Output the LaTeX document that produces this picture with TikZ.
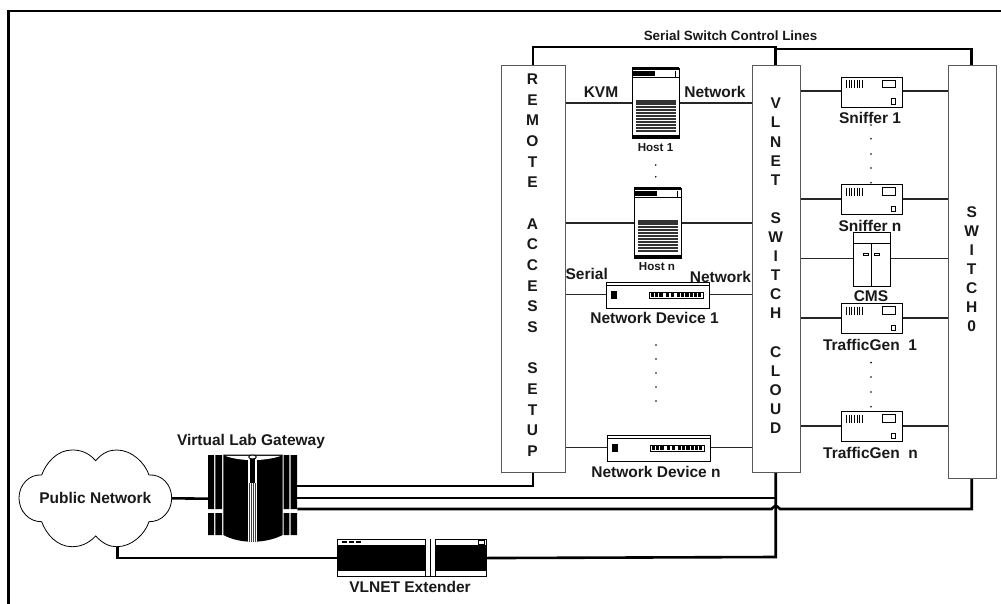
\documentclass[tikz,border=0pt]{standalone}
\usepackage{fontspec}
\setmainfont{Liberation Sans}
\tikzset{
  thinline/.style={line width=1.3pt,draw=black!85},
  thickline/.style={line width=2.6pt,draw=black,line join=miter},
  rack/.style={draw=black!65,line width=1.1pt,fill=white,inner sep=0pt},
  lab/.style={font=\bfseries\fontsize{15.5}{16}\selectfont,inner sep=0pt,text=black!90},
  titlelab/.style={font=\bfseries\fontsize{13.4}{15}\selectfont,inner sep=0pt,text=black!90},
  smalllab/.style={font=\bfseries\fontsize{11.6}{13}\selectfont,inner sep=0pt,text=black!90},
  vertras/.style={font=\bfseries\fontsize{15.5}{20.67}\selectfont,align=center,inner sep=0pt,text=black!90},
  vertsw/.style={font=\bfseries\fontsize{15.5}{19.1}\selectfont,align=center,inner sep=0pt,text=black!90},
  dev/.style={draw=black,line width=1.1pt,fill=white,inner sep=0pt,anchor=north west},
  ghost/.style={inner sep=0pt,anchor=north west}
}
\newcommand{\snifferbox}[3]{%
  \begin{scope}[shift={(#2,#3)}]
    \node[dev,minimum width=60.5pt,minimum height=30pt] (#1) at (0,0) {};
    \foreach \k in {0,...,6} \draw[line width=.7pt] (5.5+\k*2.6,3.6) -- (5.5+\k*2.6,11.6);
    \draw[line width=.9pt] (41.3,3.6) rectangle (54.7,11);
    \draw[line width=.9pt] (50.9,22) rectangle (54.7,27.4);
  \end{scope}}
\newcommand{\hostbox}[3]{%
  \begin{scope}[shift={(#2,#3)}]
    \node[dev,minimum width=47pt,minimum height=70pt] (#1) at (0,0) {};
    \fill (0,-.5) rectangle (47,2.5);
    \fill (0,67) rectangle (47,70.5);
    \draw[line width=.7pt] (0,9) -- (47,9);
    \fill (1,3) rectangle (23,8.5);
    \draw[line width=.6pt] (43.5,3) -- (43.5,9);
    \fill[black!80] (4,32) rectangle (44,65);
    \foreach \k in {0,...,9} \draw[white,line width=.5pt] (4,37+\k*3) -- (44,37+\k*3);
  \end{scope}}
\newcommand{\netdev}[3]{%
  \begin{scope}[shift={(#2,#3)}]
    \node[dev,minimum width=103pt,minimum height=26pt] (#1) at (0,0) {};
    \draw[line width=.8pt] (0,3) -- (103,3);
    \fill (5,9) rectangle (11.5,16.5);
    \draw[line width=.9pt,fill=white] (43.5,10) rectangle (98,16.5);
    \foreach \a in {45.5,49.7,53.9,60,65.5,71.5,75.7,79.9,84.1,88.3,92.5} \fill (\a,11.3) rectangle +(3.2,4);
  \end{scope}}
\begin{document}
\begin{tikzpicture}[x=1pt,y=-1pt]
\useasboundingbox (0,0) rectangle (1001,604);
% frame
\draw[line width=2.2pt] (8.5,604) -- (8.5,11) -- (1001,11);
% big boxes
\node[rack,minimum width=64pt,minimum height=407pt,anchor=north west] (ras) at (501,65) {};
\node[vertras,anchor=north] (rastxt) at (532.5,73.5) {R\\E\\M\\O\\T\\E\\~\\A\\C\\C\\E\\S\\S\\~\\S\\E\\T\\U\\P};
\node[rack,minimum width=48pt,minimum height=407pt,anchor=north west] (vsc) at (752,65) {};
\node[vertsw,anchor=north] (vsctxt) at (775.7,98) {V\\L\\N\\E\\T\\~\\S\\W\\I\\T\\C\\H\\~\\C\\L\\O\\U\\D};
\node[rack,minimum width=48pt,minimum height=413pt,anchor=north west] (sw) at (947.5,65) {};
\node[vertsw,anchor=north] (swtxt) at (971.7,206) {S\\W\\I\\T\\C\\H\\0};
% devices
\hostbox{hosta}{632}{68}
\hostbox{hostb}{634}{188}
\netdev{nda}{605.5}{282}
\netdev{ndb}{606.5}{435}
\snifferbox{sna}{841}{76.7}
\snifferbox{snb}{841}{184}
\snifferbox{tga}{841}{303}
\snifferbox{tgb}{841}{411.3}
% labels under the CMS box
\node[lab] (lsnb) at (870,226) {Sniffer n};
% CMS
\node[dev,minimum width=36.7pt,minimum height=54.5pt] (cms) at (853,231.8) {};
\draw[line width=1.1pt] (853,243.3) -- (889.7,243.3) (871.3,243.3) -- (871.3,286.3);
\draw[line width=.8pt] (863.5,253.5) rectangle (868.5,255.8) (874,253.5) rectangle (879,255.8);
% thin connectors
\foreach \a/\b/\yy in {ras/hosta/103,hosta/vsc/103,ras/hostb/223,hostb/vsc/223,ras/nda/294.5,nda/vsc/294.5,ras/ndb/447.7,ndb/vsc/447.7,vsc/sna/91,sna/sw/91,vsc/snb/199,snb/sw/199,vsc/cms/258.7,cms/sw/258.7,vsc/tga/318,tga/sw/318,vsc/tgb/426,tgb/sw/426}
  \draw[thinline] (\a.east |- 0,\yy) -- (\b.west |- 0,\yy);
% labels
\node[lab] (lkvm) at (601,92) {KVM};
\node[lab] (lneta) at (715,92) {Network};
\node[lab] (lser) at (586.7,273.5) {Serial};
\node[lab] (lnetb) at (720.5,276.5) {Network};
\node[smalllab] (lha) at (655.5,148) {Host 1};
\node[smalllab] (lhb) at (657,267) {Host n};
\node[lab] (lnda) at (654.5,317.5) {Network Device 1};
\node[lab] (lndb) at (656,472) {Network Device n};
\node[lab] (lsna) at (870,118) {Sniffer 1};
\node[lab] (lcms) at (871,296.5) {CMS};
\node[lab] (ltga) at (870,345) {TrafficGen\ \ 1};
\node[lab] (ltgb) at (870.5,452.5) {TrafficGen\ \ n};
\node[titlelab] (ltitle) at (730.5,36) {Serial Switch Control Lines};
\node[lab] (lgw) at (251,441) {Virtual Lab Gateway};
\node[lab] (lext) at (410,587) {VLNET Extender};
% dots
\foreach \yy in {165,176.7} \fill (655.7,\yy) circle (.9);
\foreach \yy in {345,359,373,387,401} \fill (656,\yy) circle (.9);
\foreach \yy in {125,138.7,154,168,182.7} \fill (871,\yy) circle (.9);
\foreach \yy in {362.6,377,392,406.7} \fill (871,\yy) circle (.9);
% cloud
\draw[line width=.8pt,fill=white]
  (95.7,460.7) .. controls (103,452) and (110,450) .. (116.7,450)
  .. controls (132,450) and (145,463) .. (149,475)
  .. controls (162,474) and (171.7,485) .. (171.7,498)
  .. controls (171.7,511) and (162,522) .. (149,521.7)
  .. controls (145,534) and (132,546.7) .. (116.7,546.7)
  .. controls (110,546.7) and (103,544) .. (95.7,536)
  .. controls (88,544) and (80,546.7) .. (72,546.7)
  .. controls (57,546.7) and (46,534) .. (41.7,521.7)
  .. controls (29,522) and (19,511) .. (19,498)
  .. controls (19,485) and (29,474) .. (41.7,475)
  .. controls (46,463) and (57,450) .. (72,450)
  .. controls (80,450) and (88,452) .. (95.7,460.7) -- cycle;
\node[lab,minimum width=152.7pt,minimum height=96.7pt] (cloud) at (95.3,498.3) {Public Network};
% gateway
\node[ghost,minimum width=89pt,minimum height=87pt] (gw) at (208,455) {};
\fill (208,455) rectangle (214,509) (215.3,455) rectangle (222,509);
\fill (208,513) rectangle (214,535) (215.3,513) rectangle (222,535);
\fill (283.5,455) rectangle (289.3,509) (290.7,455) rectangle (297,509);
\fill (283.5,513) rectangle (289.3,535) (290.7,513) rectangle (297,535);
\fill (223.3,454.5) -- (282.7,454.5) -- (282.7,535)
  .. controls (265,544) and (240,544) .. (223.3,535) -- cycle;
\fill[white] (225,455.8) .. controls (240,461.5) and (265,461.5) .. (281,455.8) -- cycle;
\fill[white] (248,459) rectangle (256.5,542);
\fill (249.6,459) rectangle (254.9,483);
\foreach \a in {249.6,251.4,253.2,255} \draw[line width=.7pt,black!75] (\a,483) -- (\a,542);
\draw[line width=.9pt,fill=white] (252.5,457) ellipse (3.8 and 2);
% extender
\node[dev,minimum width=149pt,minimum height=37pt] (ext) at (337,539) {};
\fill (337,544.5) rectangle (486,570.5);
\fill[white] (425.7,539) rectangle (435,576);
\draw[line width=.8pt] (425.7,539) -- (425.7,576) (430.3,539) -- (430.3,576) (435,539) -- (435,576);
\foreach \a in {342,349,356} \fill (\a,540.5) rectangle +(5,2.5);
\draw[line width=.8pt] (478.7,540.5) rectangle (484,544);
% thick connectors
\draw[thickline] (cloud.east) -- (gw.west);
\draw[thickline] (117.5,546.7) |- (ext.west);
\draw[thickline] (ext.east) -- (775.7,557) -- (vsc.south -| 775.7,0);
\draw[thickline] (ras.north -| 532.8,0) |- (775.7,47) -- (vsc.north -| 775.7,0);
\draw[thickline] (775.7,49) -| (sw.north -| 971.7,0);
\draw[thickline] (gw.east |- 0,486) -| (ras.south -| 532.8,0);
\draw[thickline] (gw.east |- 0,498) -- (775.7,498);
\draw[thickline] (gw.east |- 0,509) -- (771.5,509) .. controls (773.5,509) and (773,505.5) .. (775.7,505.5)
  .. controls (778.4,505.5) and (778,509) .. (780,509) -| (sw.south -| 971.7,0);
\end{tikzpicture}
\end{document}
